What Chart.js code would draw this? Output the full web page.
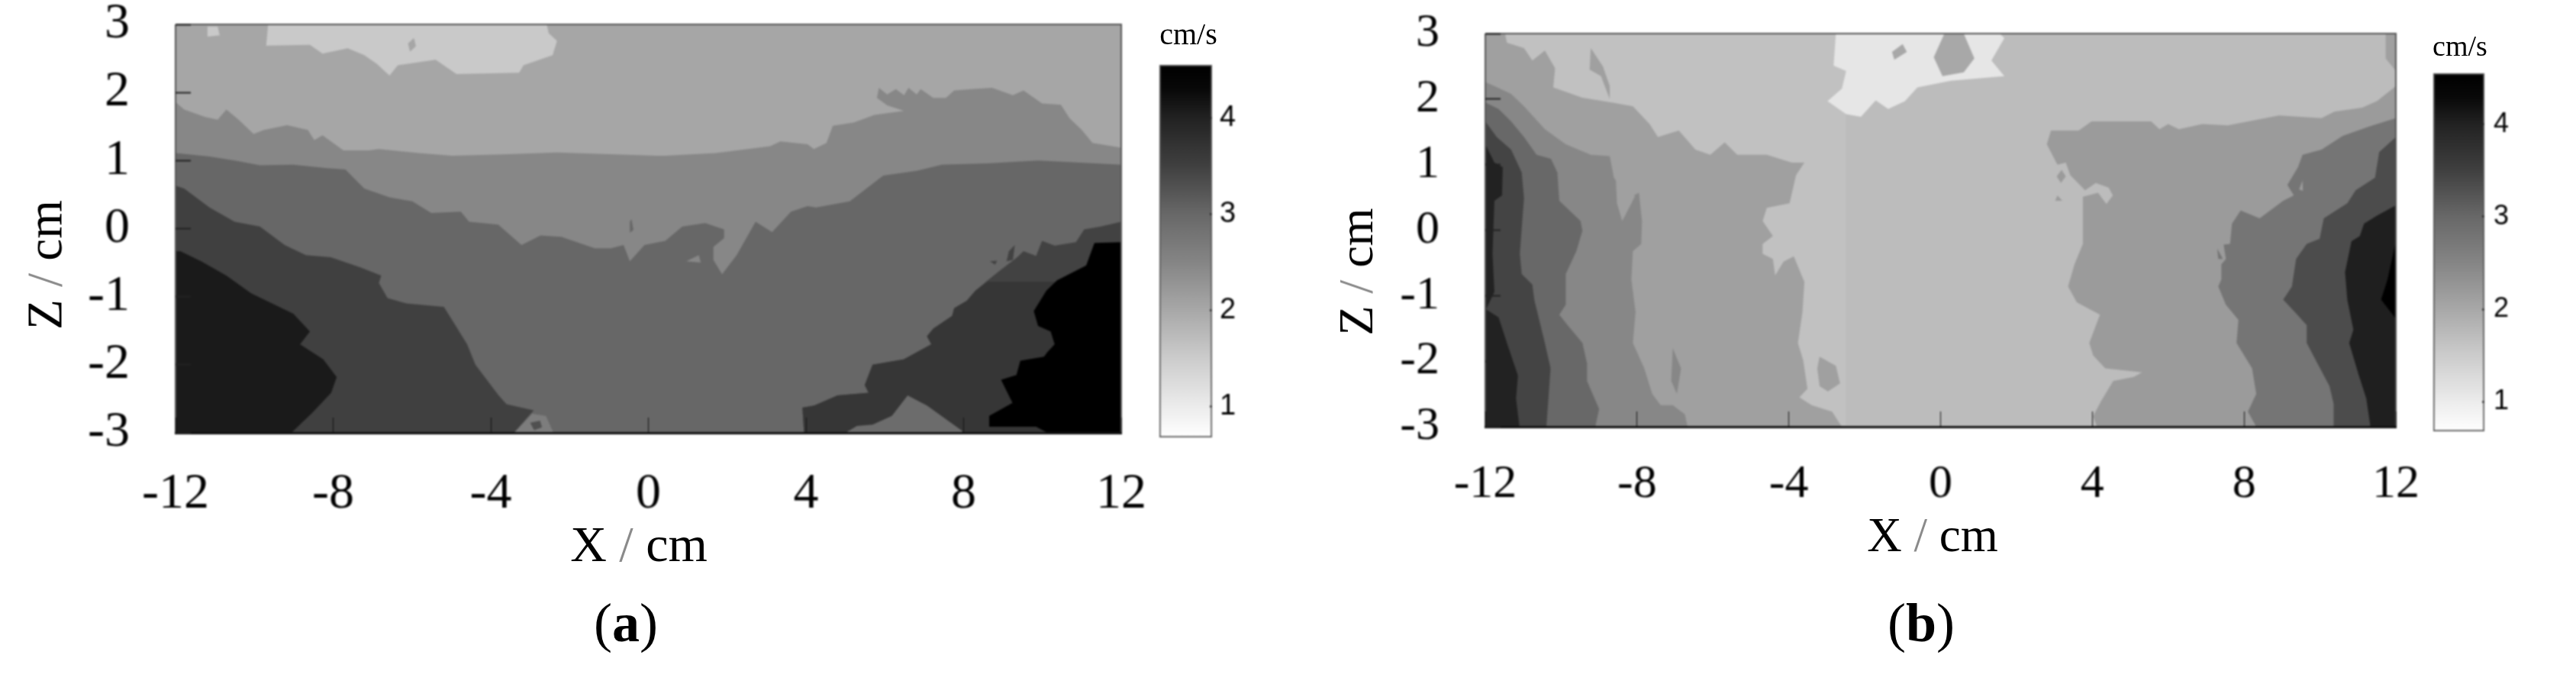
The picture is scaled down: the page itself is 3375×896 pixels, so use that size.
<!DOCTYPE html>
<html>
<head>
<meta charset="utf-8">
<title>Velocity contours</title>
<script src="https://cdn.jsdelivr.net/npm/chart.js@4/dist/chart.umd.js"></script>
<style>
    html, body { margin: 0; background: #fff; width: 3375px; height: 896px; overflow: hidden; }
    canvas { position: absolute; top: 0; filter: blur(0.8px); }
    .txt { position: absolute; font-family: 'Liberation Serif', serif; color: #000; line-height: 1; white-space: pre; transform: translate(-50%, -50%); }
    .rot { transform: translate(-50%, -50%) rotate(-90deg); }
    .sl { color: #8a8a8a; }
</style>
</head>
<body>
<canvas id="plotA" style="left:0"></canvas>
<canvas id="barA" style="left:1500px"></canvas>
<canvas id="plotB" style="left:1700px"></canvas>
<canvas id="barB" style="left:3170px"></canvas>

<div class="txt rot" style="left:59px;top:347px;font-size:65px">Z <span class="sl">/</span> cm</div>
<div class="txt" style="left:837px;top:713px;font-size:66px">X <span class="sl">/</span> cm</div>
<div class="txt" style="left:820px;top:816px;font-size:72px">(<b>a</b>)</div>
<div class="txt" style="left:1557px;top:45px;font-size:40px">cm/s</div>

<div class="txt rot" style="left:1777px;top:356px;font-size:64px">Z <span class="sl">/</span> cm</div>
<div class="txt" style="left:2532px;top:701px;font-size:63px">X <span class="sl">/</span> cm</div>
<div class="txt" style="left:2517px;top:816px;font-size:72px">(<b>b</b>)</div>
<div class="txt" style="left:3223px;top:60px;font-size:38px">cm/s</div>

<script>
// Axis ticks
const xTicks = [-12, -8, -4, 0, 4, 8, 12];
const zTicks = [-3, -2, -1, 0, 1, 2, 3];
const barTicks = [1, 2, 3, 4];

// Colour bar: speed (cm/s) and grey level
const barRange = [0.68, 4.55];
const barSpeeds = [4.55, 4.3, 4, 3.5, 3, 2.5, 2, 1.5, 1, 0.68];
const barGreys = [0, 8, 34, 64, 104, 133, 168, 204, 236, 255];

// Panel (a) contour regions, [X, Z] in cm
const aFrame = [[-12, 3], [12, 3], [12, -3], [-12, -3], [-12, 3]];
const aTop = [[-9.65, 3], [-9.7, 2.69], [-8.59, 2.7], [-8.27, 2.57], [-7.63, 2.65], [-7.21, 2.55], [-6.89, 2.42], [-6.57, 2.25], [-6.36, 2.4], [-5.4, 2.48], [-4.87, 2.27], [-3.28, 2.29], [-3.17, 2.4], [-2.43, 2.55], [-2.32, 2.76], [-2.53, 2.87], [-2.58, 3]];
const aTopSpeck = [[-11.19, 2.97], [-10.93, 2.97], [-10.88, 2.84], [-11.19, 2.82]];
const aTopHole = [[-5.95, 2.8], [-5.9, 2.68], [-6.05, 2.6], [-6.1, 2.72]];
const aMid = [[-12, 1.86], [-11.78, 1.75], [-11.25, 1.64], [-10.93, 1.6], [-10.71, 1.75], [-10.4, 1.6], [-10.02, 1.39], [-9.76, 1.45], [-9.17, 1.52], [-8.64, 1.45], [-8.48, 1.3], [-8.27, 1.37], [-7.74, 1.15], [-7.1, 1.15], [-6.84, 1.17], [-5.83, 1.11], [-4.98, 1.07], [-3.7, 1.09], [-2.32, 1.12], [0.21, 1.07], [0.43, 1.07], [1.71, 1.11], [3.09, 1.21], [3.35, 1.28], [4.04, 1.24], [4.2, 1.17], [4.52, 1.26], [4.68, 1.51], [5.21, 1.56], [5.74, 1.67], [6.49, 1.73], [6.06, 1.81], [5.8, 1.92], [5.85, 2.07], [6.06, 1.97], [6.28, 2.05], [6.49, 1.96], [6.6, 2.07], [6.81, 1.97], [6.91, 2.05], [7.23, 1.92], [7.55, 1.92], [7.76, 2.03], [8.19, 2.05], [8.72, 2.07], [9.25, 1.96], [9.52, 2.03], [9.99, 1.84], [10.47, 1.82], [10.69, 1.62], [11, 1.45], [11.27, 1.26], [12, 1.19], [12, -3], [-12, -3]];
const aMidHole = [[-0.43, 0.14], [-0.38, -0.02], [-0.47, -0.06], [-0.47, 0.1]];
const aDeep = [[-12, 1.11], [-11.14, 1.06], [-10.5, 1], [-9.86, 0.93], [-9.01, 0.94], [-8.16, 0.89], [-7.69, 0.87], [-7.21, 0.59], [-6.57, 0.46], [-5.99, 0.4], [-5.51, 0.23], [-4.76, 0.25], [-4.55, 0.1], [-3.81, 0.06], [-3.22, -0.24], [-2.74, -0.1], [-2.21, -0.12], [-1.36, -0.29], [-0.95, -0.29], [-0.63, -0.24], [-0.47, -0.48], [-0.1, -0.24], [0.43, -0.18], [0.86, 0.03], [1.44, 0.08], [1.92, -0.01], [1.92, -0.14], [1.65, -0.27], [1.65, -0.46], [1.87, -0.67], [2.24, -0.39], [2.72, 0.1], [3.14, -0.05], [3.62, 0.25], [4.04, 0.33], [4.26, 0.31], [5.11, 0.4], [5.96, 0.78], [6.81, 0.85], [7.45, 0.94], [8.61, 0.96], [9.89, 1], [12, 0.94], [12, -3], [-12, -3]];
const aDeepPocket = [[0.96, -0.48], [1.28, -0.39], [1.33, -0.5]];
const aLeftDark = [[-12, 0.63], [-11.78, 0.59], [-11.14, 0.31], [-10.5, 0.1], [-9.86, 0.03], [-9.23, -0.24], [-8.69, -0.39], [-8.06, -0.42], [-7.31, -0.57], [-6.78, -0.69], [-6.84, -0.8], [-6.62, -1.02], [-6.14, -1.1], [-5.19, -1.15], [-4.92, -1.4], [-4.6, -1.7], [-4.39, -2], [-3.8, -2.45], [-3.6, -2.58], [-2.91, -2.67], [-3.4, -2.99], [-3.4, -3], [-12, -3]];
const aBottomLight = [[-3.4, -3], [-2.95, -2.72], [-2.6, -2.75], [-2.41, -3]];
const aBottomBlob = [[-3, -2.85], [-2.75, -2.82], [-2.7, -2.92], [-2.9, -2.96]];
const aLeftCore = [[-12, -0.33], [-11.88, -0.33], [-11.35, -0.48], [-10.71, -0.69], [-10.08, -0.95], [-9.55, -1.1], [-9.01, -1.25], [-8.59, -1.51], [-8.84, -1.7], [-8.25, -1.92], [-7.91, -2.18], [-8.05, -2.41], [-8.54, -2.71], [-9.04, -2.99], [-9.04, -3], [-12, -3]];
const aCoreWedge = [[-9.04, -3], [-8.74, -2.82], [-8.54, -3]];
const aRightDark = [[12, 0.1], [11.48, 0.03], [11.06, -0.01], [10.85, -0.2], [10.31, -0.25], [9.99, -0.18], [9.84, -0.4], [9.52, -0.33], [9.36, -0.42], [8.93, -0.61], [8.61, -0.76], [8.3, -0.91], [8.08, -1.06], [7.76, -1.17], [7.71, -1.28], [7.23, -1.47], [7.07, -1.58], [7.18, -1.7], [6.48, -1.92], [5.69, -2], [5.49, -2.3], [5.59, -2.41], [4.8, -2.45], [4.21, -2.6], [3.91, -2.63], [3.95, -3], [12, -3]];
const aRightDarker = [[8.61, -0.78], [12, -0.78], [12, -3], [3.95, -3], [3.91, -2.63], [4.21, -2.6], [4.8, -2.45], [5.59, -2.41], [5.49, -2.3], [5.69, -2], [6.48, -1.92], [7.18, -1.7], [7.07, -1.58], [7.23, -1.47], [7.71, -1.28], [7.76, -1.17], [8.08, -1.06], [8.3, -0.91]];
const aSpeckA = [[9.15, -0.33], [9.3, -0.24], [9.25, -0.46], [9.09, -0.48]];
const aSpeckB = [[8.67, -0.48], [8.85, -0.47], [8.8, -0.53]];
const aPocket = [[5, -3], [5.29, -2.9], [5.69, -2.88], [6.18, -2.75], [6.58, -2.45], [7.07, -2.6], [7.96, -2.97], [7.96, -3]];
const aRightCore = [[12, -0.2], [11.32, -0.21], [11.11, -0.54], [10.37, -0.76], [10.1, -0.91], [9.78, -1.21], [9.89, -1.43], [10.21, -1.51], [10.31, -1.7], [10.13, -1.81], [10.04, -1.88], [9.44, -1.94], [9.34, -2.15], [8.95, -2.22], [9.24, -2.56], [8.65, -2.75], [8.65, -2.91], [9.84, -2.91], [10.13, -3], [12, -3]];

// Panel (b) contour regions, [X, Z] in cm
const bFrame = [[-12, 3], [12, 3], [12, -3], [-12, -3], [-12, 3]];
const bLeftHalf = [[-12, 3], [-2.5, 3], [-2.5, -3], [-12, -3]];
const bBright = [[-2.76, 3], [-2.82, 2.51], [-2.49, 2.43], [-2.6, 2.16], [-2.98, 1.97], [-2.49, 1.77], [-2.1, 1.73], [-1.71, 1.98], [-1.38, 1.85], [-0.94, 1.97], [-0.61, 2.18], [0.27, 2.28], [1.68, 2.35], [1.34, 2.59], [1.68, 2.93], [1.56, 3]];
const bNotch = [[0.1, 3], [-0.18, 2.64], [0.05, 2.35], [0.61, 2.41], [0.89, 2.62], [0.61, 3]];
const bBrightHole = [[-1, 2.84], [-0.89, 2.72], [-1.22, 2.6], [-1.28, 2.72]];
const bStreak = [[-9.22, 2.78], [-9.25, 2.45], [-8.95, 2.35], [-8.72, 2], [-8.72, 2.2], [-8.9, 2.5]];
const bLeft1 = [[-11.48, 3], [-11.43, 2.86], [-10.98, 2.78], [-10.76, 2.59], [-10.43, 2.74], [-10.16, 2.47], [-10.21, 2.18], [-9.44, 2.02], [-8.67, 1.95], [-8.11, 1.89], [-7.67, 1.62], [-7.45, 1.42], [-6.9, 1.52], [-6.46, 1.23], [-6.07, 1.15], [-5.69, 1.34], [-5.36, 1.15], [-4.58, 1.15], [-3.92, 1.03], [-3.59, 1.03], [-3.81, 0.84], [-3.98, 0.41], [-4.58, 0.34], [-4.69, 0.14], [-4.42, -0.09], [-4.69, -0.21], [-4.69, -0.36], [-4.42, -0.44], [-4.36, -0.69], [-4.14, -0.48], [-3.87, -0.4], [-3.59, -0.79], [-3.64, -1.25], [-3.76, -1.72], [-3.62, -1.99], [-3.51, -2.42], [-3.72, -2.55], [-3.4, -2.67], [-2.86, -2.77], [-2.65, -2.96], [-2.6, -3], [-12, -3], [-12, 3]];
const bBlob = [[-3.19, -1.93], [-2.76, -2.07], [-2.65, -2.34], [-2.97, -2.46], [-3.19, -2.38], [-3.25, -2.11]];
const bRight1 = [[12, 2.2], [11.5, 1.97], [11.11, 1.87], [10.38, 1.81], [10.04, 1.71], [8.92, 1.75], [7.57, 1.6], [6.9, 1.62], [6.28, 1.54], [6, 1.62], [5.77, 1.54], [5.55, 1.66], [3.98, 1.66], [3.64, 1.52], [2.91, 1.52], [2.8, 1.31], [3.08, 1], [3.3, 1.03], [3.42, 0.84], [3.81, 0.61], [4.09, 0.72], [4.43, 0.65], [4.54, 0.53], [4.37, 0.4], [4.15, 0.57], [3.75, 0.51], [3.75, 0.26], [3.75, -0.21], [3.53, -0.52], [3.36, -0.86], [3.59, -1.1], [4.2, -1.29], [3.92, -1.72], [4.02, -1.91], [4.34, -2.11], [4.99, -2.15], [5.31, -2.17], [5.09, -2.24], [4.55, -2.3], [4.23, -2.61], [4.02, -2.84], [4.12, -3], [12, -3]];
const bSpeckA = [[3.19, 0.92], [3.3, 0.82], [3.17, 0.72], [3.06, 0.82]];
const bSpeckB = [[3.08, 0.53], [3.21, 0.45], [3.02, 0.45]];
const bSliver = [[11.73, 3], [11.73, 2.62], [12, 2.43], [12, 3]];
const bLeft2 = [[-12, 2.26], [-11.76, 2.2], [-11.32, 2.08], [-10.98, 1.89], [-10.43, 1.54], [-9.88, 1.31], [-9.22, 1.15], [-8.72, 1.13], [-8.61, 0.8], [-8.23, 0.49], [-7.95, 0.57], [-7.87, 0.14], [-7.89, -0.21], [-8.11, -0.32], [-8.15, -0.75], [-8.04, -1.25], [-8.11, -1.72], [-7.81, -2.11], [-7.6, -2.5], [-7.38, -2.67], [-7.06, -2.67], [-6.74, -2.81], [-6.67, -3], [-12, -3]];
const bStrip = [[-8.34, 1], [-8.17, 0.72], [-8.06, 0.51], [-8.39, 0.14], [-8.53, 0.41], [-8.56, 0.8]];
const bDarkStrip = [[-7.06, -1.8], [-6.84, -2.11], [-6.95, -2.5], [-7.1, -2.3]];
const bRight2 = [[12, 1.71], [11.28, 1.58], [10.6, 1.44], [10.04, 1.23], [9.54, 1.15], [9.42, 0.96], [9.14, 0.69], [9.31, 0.53], [9.03, 0.45], [8.41, 0.18], [7.91, 0.3], [7.68, 0.1], [7.63, -0.21], [7.46, -0.22], [7.52, -0.44], [7.4, -0.52], [7.4, -0.75], [7.32, -0.86], [7.52, -1.14], [7.85, -1.37], [7.8, -1.72], [8.21, -2.11], [8.32, -2.5], [8.1, -2.77], [8.32, -3], [12, -3]];
const bRightHole = [[9.54, 0.76], [9.45, 0.62], [9.55, 0.6]];
const bRightSpeck = [[7.29, -0.28], [7.44, -0.44], [7.32, -0.44]];
const bLeft3 = [[-12, 1.95], [-11.65, 1.85], [-11.32, 1.66], [-10.98, 1.42], [-10.65, 1.15], [-10.27, 1.09], [-10.1, 0.88], [-10.05, 0.45], [-9.49, 0.14], [-9.44, -0.01], [-9.6, -0.32], [-9.88, -0.67], [-9.88, -1.14], [-10.05, -1.29], [-9.83, -1.45], [-9.44, -1.72], [-9.32, -2.03], [-9.32, -2.3], [-9, -2.73], [-9.1, -3], [-12, -3]];
const bRight3 = [[12, 1.42], [11.56, 1.19], [11.45, 0.8], [10.94, 0.61], [10.72, 0.41], [10.1, 0.18], [9.99, -0.13], [9.65, -0.21], [9.37, -0.44], [9.26, -0.86], [9.03, -1.06], [9.37, -1.27], [9.65, -1.45], [9.65, -1.72], [9.93, -2.03], [10.25, -2.38], [10.36, -2.65], [10.36, -3], [12, -3]];
const bLeft4 = [[-12, 1.66], [-11.7, 1.42], [-11.32, 1.23], [-11.04, 0.88], [-10.98, 0.49], [-11.04, 0.03], [-11.09, -0.36], [-11.04, -0.67], [-10.76, -0.83], [-10.71, -1.06], [-10.43, -1.72], [-10.28, -2.11], [-10.39, -3], [-12, -3]];
const bRight4 = [[12, 0.38], [11.5, 0.22], [11.16, 0.1], [11.05, -0.09], [10.83, -0.17], [10.66, -0.64], [10.72, -1.06], [10.88, -1.52], [10.77, -1.72], [11.01, -2.19], [11.22, -2.57], [11.33, -3], [12, -3]];
const bLeft5 = [[-12, 1.31], [-11.76, 1.03], [-11.54, 0.96], [-11.56, 0.53], [-11.76, 0.45], [-11.81, -0.36], [-11.76, -0.94], [-11.98, -1.21], [-11.65, -1.33], [-11.43, -1.72], [-11.14, -2.22], [-11.19, -2.57], [-11.1, -3], [-12, -3]];
const bRight5 = [[12, -0.17], [11.78, -0.75], [11.61, -1.06], [12, -1.35]];

// Bottom-to-top paint order for each panel
const aLayers = [
    [aFrame, '#a6a6a6'], [aTop, '#c9c9c9'], [aTopSpeck, '#c9c9c9'], [aTopHole, '#a6a6a6'],
    [aMid, '#878787'], [aMidHole, '#676767'], [aDeep, '#676767'], [aDeepPocket, '#878787'],
    [aLeftDark, '#404040'], [aBottomLight, '#7d7d7d'], [aBottomBlob, '#505050'],
    [aLeftCore, '#1a1a1a'], [aCoreWedge, '#404040'], [aRightDark, '#424242'], [aRightDarker, '#363636'],
    [aSpeckA, '#424242'], [aSpeckB, '#424242'], [aPocket, '#6c6c6c'], [aRightCore, '#000000']
];
const bLayers = [
    [bFrame, '#bcbcbc'], [bLeftHalf, '#c1c1c1'], [bBright, '#e6e6e6'], [bNotch, '#a8a8a8'],
    [bBrightHole, '#a8a8a8'], [bStreak, '#a0a0a0'],
    [bLeft1, '#a0a0a0'], [bBlob, '#a0a0a0'], [bRight1, '#9b9b9b'], [bSpeckA, '#9b9b9b'], [bSpeckB, '#9b9b9b'], [bSliver, '#a0a0a0'],
    [bLeft2, '#878787'], [bStrip, '#a0a0a0'], [bDarkStrip, '#878787'], [bRight2, '#757575'], [bRightHole, '#9b9b9b'], [bRightSpeck, '#757575'],
    [bLeft3, '#686868'], [bRight3, '#4c4c4c'], [bLeft4, '#444444'], [bRight4, '#1f1f1f'], [bLeft5, '#222222'], [bRight5, '#000000']
];

Chart.defaults.font.family = "'Liberation Serif', serif";
Chart.defaults.color = '#000';
Chart.defaults.animation = false;

// Keep the plot box where it is in the figure: no room reserved for overhanging labels
function fixScale(s, size) {
    if (s.isHorizontal()) s.height = size; else s.width = size;
    s.paddingLeft = s.paddingRight = s.paddingTop = s.paddingBottom = 0;
}

function contourPlot(id, layers, frame, box) {
    const canvas = document.getElementById(id);
    canvas.width = box.width;
    canvas.height = box.height;
    const datasets = layers.map(([data, grey]) => ({
        data: data,
        showLine: true,
        fill: 'shape',
        backgroundColor: grey,
        borderWidth: 0,
        pointRadius: 0
    }));
    datasets.push({
        data: frame,
        showLine: true,
        fill: false,
        borderColor: '#555',
        borderWidth: 2,
        pointRadius: 0,
        clip: false
    });
    // dataset 0 is painted last by Chart.js
    datasets.reverse();
    return new Chart(canvas, {
        type: 'scatter',
        data: { datasets: datasets },
        options: {
            responsive: false,
            events: [],
            layout: { padding: { top: box.top, right: box.right, left: 0, bottom: 0 } },
            plugins: { legend: { display: false }, tooltip: { enabled: false } },
            scales: {
                x: {
                    min: -12,
                    max: 12,
                    afterBuildTicks: s => { s.ticks = xTicks.map(v => ({ value: v })); },
                    afterFit: s => fixScale(s, box.height - box.bottom),
                    grid: { drawOnChartArea: false, tickLength: -20, tickColor: '#111', tickWidth: 1, z: 1 },
                    border: { color: '#111', width: 3, z: 1 },
                    ticks: { font: { size: box.font }, padding: box.xPad, maxRotation: 0, autoSkip: false }
                },
                y: {
                    min: -3,
                    max: 3,
                    afterBuildTicks: s => { s.ticks = zTicks.map(v => ({ value: v })); },
                    afterFit: s => fixScale(s, box.left),
                    grid: { drawOnChartArea: false, tickLength: -20, tickColor: '#222', tickWidth: 2, z: 1 },
                    border: { display: false },
                    ticks: { font: { size: box.font }, padding: box.yPad, autoSkip: false }
                }
            }
        }
    });
}

function colourBar(id, box) {
    const canvas = document.getElementById(id);
    canvas.width = 160;
    canvas.height = 620;
    return new Chart(canvas, {
        type: 'bar',
        data: {
            labels: ['cm/s'],
            datasets: [{
                data: [barRange],
                barPercentage: 1,
                categoryPercentage: 1,
                borderWidth: 2,
                borderSkipped: false,
                borderColor: '#555',
                backgroundColor: ctx => {
                    const { chartArea, ctx: c } = ctx.chart;
                    if (!chartArea) return '#888';
                    const g = c.createLinearGradient(0, chartArea.top, 0, chartArea.bottom);
                    const span = barRange[1] - barRange[0];
                    barSpeeds.forEach((v, i) => {
                        const k = barGreys[i];
                        g.addColorStop((barRange[1] - v) / span, `rgb(${k},${k},${k})`);
                    });
                    return g;
                }
            }]
        },
        options: {
            responsive: false,
            events: [],
            layout: { padding: { top: box.top, bottom: box.bottom, left: box.left, right: 0 } },
            plugins: { legend: { display: false }, tooltip: { enabled: false } },
            scales: {
                x: { display: false },
                y: {
                    position: 'right',
                    min: barRange[0],
                    max: barRange[1],
                    afterBuildTicks: s => { s.ticks = barTicks.map(v => ({ value: v })); },
                    afterFit: s => fixScale(s, box.axis),
                    grid: { drawOnChartArea: false, tickLength: -3, tickColor: '#222', tickWidth: 2, z: 1 },
                    border: { display: false },
                    ticks: {
                        font: { family: "'Liberation Sans', sans-serif", size: box.font },
                        padding: box.pad,
                        autoSkip: false
                    }
                }
            }
        }
    });
}

contourPlot('plotA', aLayers, aFrame, { width: 1500, height: 700, left: 230, top: 32, right: 31, bottom: 567, font: 66, xPad: 61, yPad: 80 });
colourBar('barA', { top: 85, bottom: 47, left: 19, axis: 72, font: 38, pad: 13 });
contourPlot('plotB', bLayers, bFrame, { width: 1480, height: 700, left: 246, top: 44, right: 41, bottom: 559, font: 62, xPad: 59, yPad: 80 });
colourBar('barB', { top: 96, bottom: 55, left: 18, axis: 75, font: 36, pad: 15 });
</script>
</body>
</html>
